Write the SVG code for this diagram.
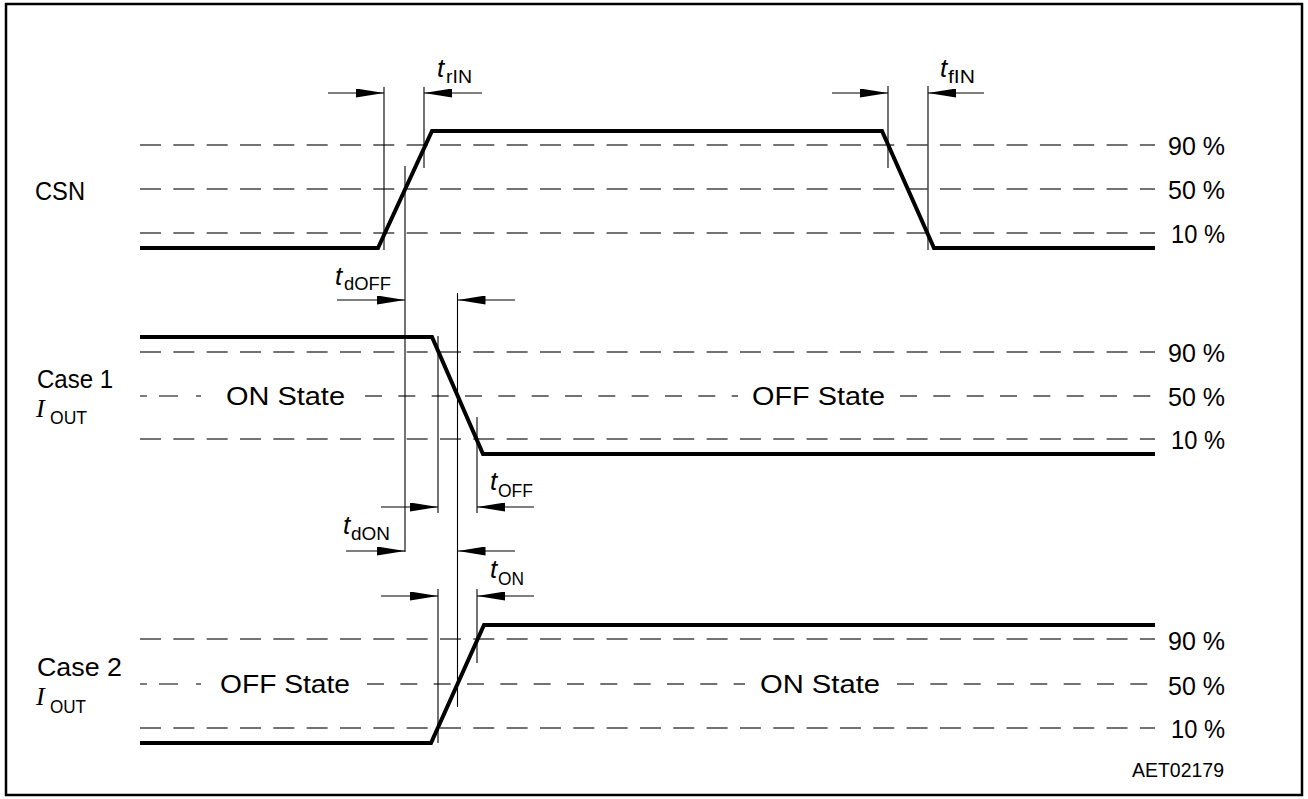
<svg xmlns="http://www.w3.org/2000/svg" width="1308" height="799" viewBox="0 0 1308 799">
<defs>
<marker id="ah" viewBox="0 0 28 9" markerWidth="28" markerHeight="9" refX="28" refY="4.5" orient="auto" markerUnits="userSpaceOnUse">
<path d="M0,0 L28,4.5 L0,9 z" fill="#000"/>
</marker>
<style>
.frame{fill:#fff;stroke:#000;stroke-width:2.5}
.sig{fill:none;stroke:#000;stroke-width:4;stroke-linejoin:miter}
.dash{stroke:#444;stroke-width:1.4;stroke-dasharray:21 12.33}
.dash2{stroke:#444;stroke-width:1.4;stroke-dasharray:17 16.33}
.seg{stroke:#444;stroke-width:1.4}
.vl{stroke:#000;stroke-width:1.1}
.arr{stroke:#000;stroke-width:1.1;marker-end:url(#ah)}
.lbl{font-family:'Liberation Sans',Arial,sans-serif;font-size:26px;fill:#000}
.pct{font-family:'Liberation Sans',Arial,sans-serif;font-size:26px;fill:#000}
.t{font-family:'Liberation Sans',Arial,sans-serif;font-size:26px;font-style:italic;fill:#000}
.sub{font-family:'Liberation Sans',Arial,sans-serif;font-size:18px;fill:#000}
.I{font-family:'Liberation Serif','Times New Roman',serif;font-size:26px;font-style:italic;fill:#000}
.code{font-family:'Liberation Sans',Arial,sans-serif;font-size:21px;fill:#000}
</style>
</defs>
<rect id="frame" class="frame" x="6" y="4" width="1296" height="791"/>

<g id="csn">
<line class="dash" x1="140" y1="145" x2="1155" y2="145"/>
<line class="dash" x1="140" y1="189" x2="1155" y2="189"/>
<line class="dash" x1="140" y1="233" x2="1155" y2="233"/>
<polyline class="sig" points="140,248 378,248 432,131 882,131 934,248 1155,248"/>
<text class="lbl" x="35" y="200" textLength="50" lengthAdjust="spacingAndGlyphs">CSN</text>
<text class="pct" x="1168" y="155" textLength="57" lengthAdjust="spacingAndGlyphs">90 %</text>
<text class="pct" x="1168" y="199" textLength="57" lengthAdjust="spacingAndGlyphs">50 %</text>
<text class="pct" x="1171" y="243" textLength="54" lengthAdjust="spacingAndGlyphs">10 %</text>
<text class="t" x="437" y="77">t</text><text class="sub" x="446" y="83" textLength="26" lengthAdjust="spacingAndGlyphs">rIN</text>
<text class="t" x="940" y="77">t</text><text class="sub" x="948" y="83" textLength="27" lengthAdjust="spacingAndGlyphs">fIN</text>
</g>

<g id="case1">
<line class="dash" x1="140" y1="352" x2="1155" y2="352"/>
<line class="dash" x1="140" y1="439" x2="1155" y2="439"/>
<line class="seg" x1="140" y1="396" x2="147" y2="396"/>
<line class="seg" x1="159" y1="396" x2="178" y2="396"/>
<line class="seg" x1="196" y1="396" x2="201" y2="396"/>
<line class="dash2" x1="365" y1="396" x2="738" y2="396"/>
<line class="dash2" x1="900" y1="396" x2="1155" y2="396"/>
<polyline class="sig" points="140,337 432,337 483,454 1155,454"/>
<text class="lbl" x="37" y="388" textLength="76" lengthAdjust="spacingAndGlyphs">Case 1</text>
<text class="I" x="36" y="417">I</text><text class="sub" x="50" y="424" style="font-size:19px" textLength="37" lengthAdjust="spacingAndGlyphs">OUT</text>
<text class="lbl" x="226" y="405" textLength="119" lengthAdjust="spacingAndGlyphs">ON  State</text>
<text class="lbl" x="752" y="405" textLength="133" lengthAdjust="spacingAndGlyphs">OFF  State</text>
<text class="pct" x="1168" y="362" textLength="57" lengthAdjust="spacingAndGlyphs">90 %</text>
<text class="pct" x="1168" y="406" textLength="57" lengthAdjust="spacingAndGlyphs">50 %</text>
<text class="pct" x="1171" y="449" textLength="54" lengthAdjust="spacingAndGlyphs">10 %</text>
<text class="t" x="335" y="285">t</text><text class="sub" x="344" y="290" textLength="47" lengthAdjust="spacingAndGlyphs">dOFF</text>
<text class="t" x="490" y="490">t</text><text class="sub" x="498" y="497" textLength="35" lengthAdjust="spacingAndGlyphs">OFF</text>
<text class="t" x="343" y="534">t</text><text class="sub" x="351" y="540" textLength="39" lengthAdjust="spacingAndGlyphs">dON</text>
<text class="t" x="490" y="578">t</text><text class="sub" x="498" y="585" textLength="26" lengthAdjust="spacingAndGlyphs">ON</text>
</g>

<g id="case2">
<line class="dash" x1="140" y1="639" x2="1155" y2="639"/>
<line class="dash" x1="140" y1="728" x2="1155" y2="728"/>
<line class="seg" x1="140" y1="684" x2="147" y2="684"/>
<line class="seg" x1="159" y1="684" x2="178" y2="684"/>
<line class="seg" x1="196" y1="684" x2="201" y2="684"/>
<line class="dash2" x1="367" y1="684" x2="745" y2="684"/>
<line class="dash2" x1="897" y1="684" x2="1155" y2="684"/>
<polyline class="sig" points="140,743 431,743 484,625 1155,625"/>
<text class="lbl" x="37" y="676" textLength="85" lengthAdjust="spacingAndGlyphs">Case 2</text>
<text class="I" x="36" y="705">I</text><text class="sub" x="50" y="713" style="font-size:19px" textLength="36" lengthAdjust="spacingAndGlyphs">OUT</text>
<text class="lbl" x="220" y="693" textLength="130" lengthAdjust="spacingAndGlyphs">OFF  State</text>
<text class="lbl" x="760" y="693" textLength="120" lengthAdjust="spacingAndGlyphs">ON  State</text>
<text class="pct" x="1168" y="650" textLength="57" lengthAdjust="spacingAndGlyphs">90 %</text>
<text class="pct" x="1168" y="695" textLength="57" lengthAdjust="spacingAndGlyphs">50 %</text>
<text class="pct" x="1171" y="738" textLength="54" lengthAdjust="spacingAndGlyphs">10 %</text>
<text class="code" x="1132" y="777" textLength="92" lengthAdjust="spacingAndGlyphs">AET02179</text>
</g>

<g id="connectors">
<line class="vl" x1="384" y1="87" x2="384" y2="250"/>
<line class="vl" x1="405" y1="166" x2="405" y2="552"/>
<line class="vl" x1="424" y1="87" x2="424" y2="168"/>
<line class="vl" x1="888" y1="86" x2="888" y2="168"/>
<line class="vl" x1="928" y1="86" x2="928" y2="250"/>
<line class="vl" x1="438" y1="336" x2="438" y2="513"/>
<line class="vl" x1="457.5" y1="293" x2="457.5" y2="707"/>
<line class="vl" x1="477" y1="417" x2="477" y2="513"/>
<line class="vl" x1="438" y1="589" x2="438" y2="743"/>
<line class="vl" x1="477" y1="589" x2="477" y2="663"/>
<line class="arr" x1="328" y1="93" x2="384" y2="93"/>
<line class="arr" x1="482" y1="93" x2="424" y2="93"/>
<line class="arr" x1="832" y1="93" x2="888" y2="93"/>
<line class="arr" x1="984" y1="93" x2="928" y2="93"/>
<line class="arr" x1="337" y1="300" x2="405" y2="300"/>
<line class="arr" x1="515" y1="300" x2="457.5" y2="300"/>
<line class="arr" x1="381" y1="507" x2="438" y2="507"/>
<line class="arr" x1="534" y1="507" x2="477" y2="507"/>
<line class="arr" x1="346" y1="551" x2="405" y2="551"/>
<line class="arr" x1="515" y1="551" x2="457.5" y2="551"/>
<line class="arr" x1="381" y1="596" x2="438" y2="596"/>
<line class="arr" x1="534" y1="596" x2="477" y2="596"/>
</g>
</svg>
